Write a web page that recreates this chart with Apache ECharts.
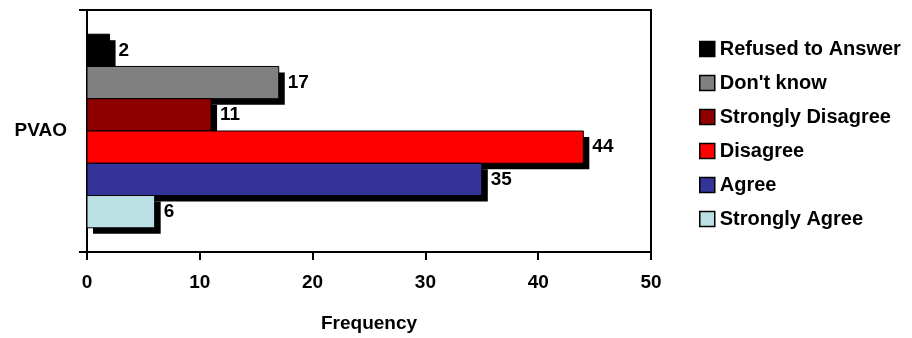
<!DOCTYPE html>
<html>
<head>
<meta charset="utf-8">
<script src="https://cdn.jsdelivr.net/npm/echarts@6/dist/echarts.min.js"></script>
<style>
html,body{margin:0;padding:0;background:#fff;}
#chart{width:912px;height:338px;}
</style>
</head>
<body>
<div id="chart"></div>
<script>
var categories = ['PVAO'];
var seriesNames = ['Refused to Answer', "Don't know", 'Strongly Disagree', 'Disagree', 'Agree', 'Strongly Agree'];
var seriesValues = [2, 17, 11, 44, 35, 6];
var seriesColors = ['#000000', '#808080', '#8E0000', '#FF0000', '#333399', '#BBE0E3'];
var xTicks = [0, 10, 20, 30, 40, 50];

var FONT = '"Liberation Sans", Arial, sans-serif';
var N = seriesNames.length;
var CATEGORY_FILL = 0.8;   // 20% category gap
var SHADOW = 6;

function makeRender(i) {
  return function (params, api) {
    var val = api.value(0);
    var cat = api.value(1);
    var p0 = api.coord([0, cat]);
    var p1 = api.coord([val, cat]);
    var band = api.size([0, 1])[1];
    var h = band * CATEGORY_FILL / N;
    var top = p0[1] - band * CATEGORY_FILL / 2 + i * h;
    var w = p1[0] - p0[0];
    return {
      type: 'group',
      children: [
        {
          type: 'rect',
          shape: { x: p0[0] + SHADOW, y: top + SHADOW, width: w, height: h },
          style: { fill: '#000' },
          silent: true
        },
        {
          type: 'rect',
          shape: { x: p0[0], y: top, width: w, height: h },
          style: { fill: api.visual('color'), stroke: '#000', lineWidth: 1 }
        },
        {
          type: 'text',
          x: p1[0] + 9,
          y: top + h / 2,
          style: {
            text: String(val),
            fill: '#000',
            fontFamily: FONT,
            fontWeight: 'bold',
            fontSize: 19,
            align: 'left',
            verticalAlign: 'middle'
          },
          silent: true
        }
      ]
    };
  };
}

var series = seriesNames.map(function (name, i) {
  return {
    name: name,
    type: 'custom',
    coordinateSystem: 'cartesian2d',
    renderItem: makeRender(i),
    encode: { x: 0, y: 1 },
    data: [[seriesValues[i], 0]],
    itemStyle: { color: seriesColors[i], borderColor: '#000', borderWidth: 1 },
    z: 2 + i,
    emphasis: { disabled: true }
  };
});

var chart = echarts.init(document.getElementById('chart'));
chart.setOption({
  animation: false,
  backgroundColor: '#fff',
  grid: {
    left: 87, top: 10, right: 261, bottom: 85,
    show: true, borderColor: '#000', borderWidth: 2, backgroundColor: 'transparent'
  },
  legend: {
    orient: 'vertical',
    left: 694,
    top: 34,
    data: seriesNames,
    itemWidth: 15,
    itemHeight: 15,
    itemGap: 14,
    icon: 'rect',
    selectedMode: false,
    textStyle: { fontFamily: FONT, fontWeight: 'bold', fontSize: 20, color: '#000', lineHeight: 20 },
    itemStyle: { borderColor: '#000', borderWidth: 1.5 }
  },
  xAxis: {
    type: 'value',
    min: xTicks[0],
    max: xTicks[xTicks.length - 1],
    interval: xTicks[1] - xTicks[0],
    name: 'Frequency',
    nameLocation: 'middle',
    nameGap: 62,
    nameTextStyle: { fontFamily: FONT, fontWeight: 'bold', fontSize: 19, color: '#000' },
    axisLine: { show: true, lineStyle: { color: '#000', width: 2 } },
    axisTick: { show: true, length: 8, lineStyle: { color: '#000', width: 2 } },
    axisLabel: { margin: 21, fontFamily: FONT, fontWeight: 'bold', fontSize: 19, color: '#000' },
    splitLine: { show: false }
  },
  yAxis: {
    type: 'category',
    data: categories,
    axisLine: { show: true, lineStyle: { color: '#000', width: 2 } },
    axisTick: { show: true, length: 8, lineStyle: { color: '#000', width: 2 } },
    axisLabel: { margin: 20, fontFamily: FONT, fontWeight: 'bold', fontSize: 19, color: '#000' }
  },
  series: series
});
</script>
</body>
</html>
